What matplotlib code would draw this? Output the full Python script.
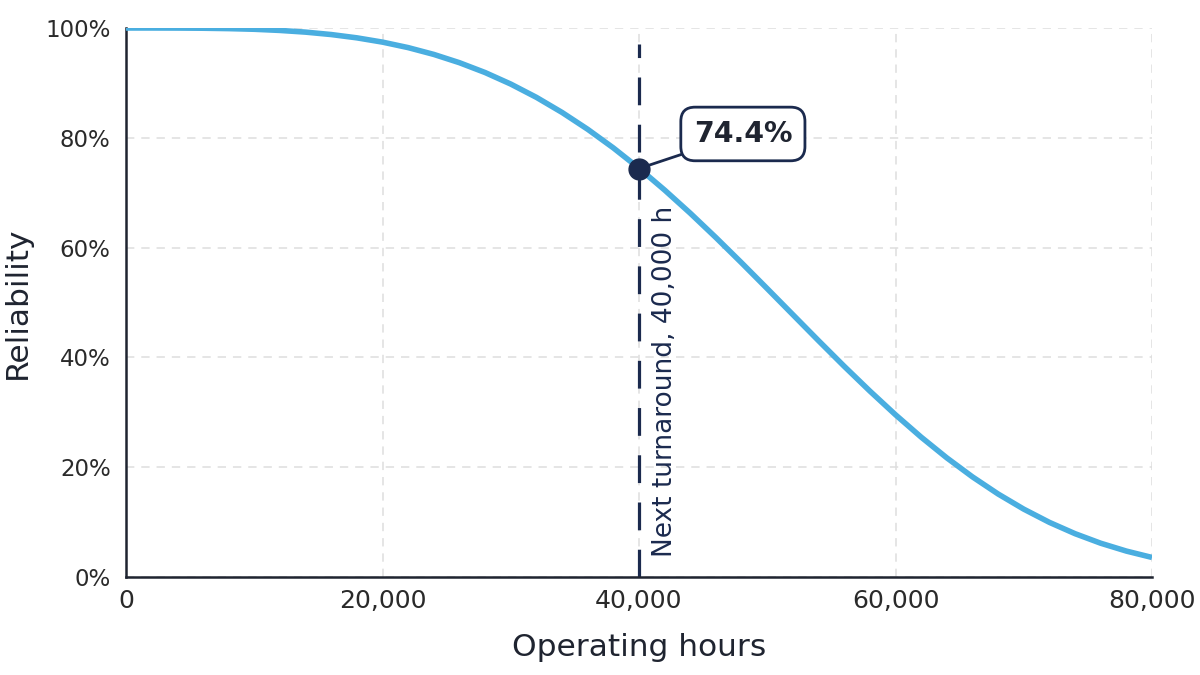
import matplotlib
matplotlib.use("Agg")
import matplotlib.pyplot as plt
from matplotlib.ticker import PercentFormatter, FuncFormatter

# reliability curve, every 2,000 operating hours
hours = [0, 2000, 4000, 6000, 8000, 10000, 12000, 14000, 16000, 18000,
         20000, 22000, 24000, 26000, 28000, 30000, 32000, 34000, 36000, 38000,
         40000, 42000, 44000, 46000, 48000, 50000, 52000, 54000, 56000, 58000,
         60000, 62000, 64000, 66000, 68000, 70000, 72000, 74000, 76000, 78000,
         80000]
reliability = [1.000, 1.000, 0.9999, 0.9996, 0.9989, 0.9977, 0.9956, 0.9925, 0.9881, 0.9821,
               0.9743, 0.9643, 0.9519, 0.9368, 0.9189, 0.8979, 0.8737, 0.8462, 0.8155, 0.7816,
               0.7446, 0.7048, 0.6626, 0.6182, 0.5722, 0.5252, 0.4778, 0.4304, 0.3838, 0.3387,
               0.2955, 0.2548, 0.2170, 0.1824, 0.1512, 0.1236, 0.0995, 0.0789, 0.0615, 0.0472,
               0.0356]

turnaround_h = 40000
turnaround_r = 0.744
x_ticks = [0, 20000, 40000, 60000, 80000]
y_ticks = [0, 0.2, 0.4, 0.6, 0.8, 1.0]

navy = "#1b2a4e"
blue = "#4aaee0"
dark = "#1f2430"

plt.rcParams['font.family'] = ['DejaVu Sans']
plt.rcParams['lines.scale_dashes'] = False

fig = plt.figure(figsize=(12, 6.75), dpi=100)
ax = fig.add_axes([0.105, 0.1452, 0.855, 0.8133])

ax.plot(hours, reliability, color=blue, lw=4, solid_capstyle='butt',
        solid_joinstyle='round', zorder=3)

# next turnaround marker
ax.axvline(turnaround_h, ymin=0, ymax=0.97, color=navy, lw=2.3,
           dashes=(20, 14), zorder=2)
ax.plot([turnaround_h], [turnaround_r], 'o', color=navy, ms=15, zorder=5)
ax.text(turnaround_h + 2000, 0.036, "Next turnaround, 40,000 h", rotation=90,
        ha='center', va='bottom', fontsize=19, color=navy)

ax.annotate("{:.1f}%".format(turnaround_r * 100),
            xy=(turnaround_h, turnaround_r), xytext=(48100, 0.807),
            ha='center', va='center', fontsize=20.5, fontweight='bold', color=dark,
            bbox=dict(boxstyle='round,pad=0.45,rounding_size=0.5', fc='white',
                      ec=navy, lw=2),
            arrowprops=dict(arrowstyle='-', color=navy, lw=2,
                            shrinkA=0, shrinkB=0),
            zorder=6)

ax.set_xlim(0, 80000)
ax.set_ylim(0, 1.0)
ax.set_xticks(x_ticks)
ax.set_yticks(y_ticks)
ax.xaxis.set_major_formatter(FuncFormatter(lambda v, p: "{:,.0f}".format(v)))
ax.yaxis.set_major_formatter(PercentFormatter(1.0, decimals=0))
ax.tick_params(axis='x', length=0, pad=9, labelsize=18, colors='#2a2a2a')
ax.tick_params(axis='y', length=0, pad=11, labelsize=16.5, colors='#2a2a2a')

ax.grid(True, color='#dedede', lw=1.1, dashes=(6, 5))
ax.set_axisbelow(True)

for side in ['top', 'right']:
    ax.spines[side].set_visible(False)
for side in ['left', 'bottom']:
    ax.spines[side].set_color(dark)
    ax.spines[side].set_linewidth(1.8)

ax.set_xlabel("Operating hours", fontsize=22.5, color=dark, labelpad=14)
ax.set_ylabel("Reliability", fontsize=22.5, color=dark, labelpad=10)

fig.savefig("out.png", dpi=100)
